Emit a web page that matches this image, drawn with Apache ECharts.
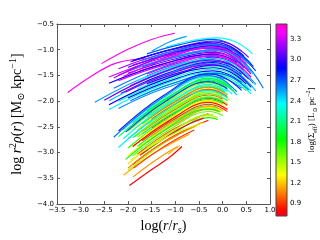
<!DOCTYPE html>
<html><head><meta charset="utf-8">
<script src="https://cdn.jsdelivr.net/npm/echarts@6/dist/echarts.min.js"></script>
<style>html,body{margin:0;padding:0;background:#fff}#c{width:320px;height:240px}</style>
</head><body><div id="c"></div>
<script>
// ---- data ----
const cbarTicks = [0.9,1.2,1.5,1.8,2.1,2.4,2.7,3.0,3.3];
const cbarRange = [0.72, 3.52];

// log(Sigma_eff) of each profile
const sigmaEff = [
  3.45,3.4,2.55,2.35,2.65,
  2.7,3.1,2.5,2.9,3.2,2.8,3.0,2.45,3.3,2.75,3.4,2.6,3.1,3.45,2.9,3.35,2.65,3.0,3.25,2.55,
  2.4,3.05,2.95,2.5,3.15,2.3,2.9,2.2,2.85,2.4,2.15,2.6,3.2,2.55,3.35,2.35,3.0,2.65,
  3.2,3.35,2.95,3.1,2.6,
  2.25,2.45,2.0,2.65,2.35,1.95,2.8,
  2.0,1.7,2.2,1.5,1.9,1.3,1.8,1.6,2.1,1.0,1.55,0.85,1.75,1.2,1.45,0.9,1.95,1.35,1.1,1.65,0.95,1.25,1.85,0.85,
  1.4,0.95,2.05,1.15,1.55,0.8,
  1.6,1.3,1.05,1.85,1.5,0.75,1.45,
  2.75,2.4,2.3,
  0.8,1.15,0.9,1.2,1.1,1.05,1.4
];

// each profile: [log(r/rs), log r^2 rho] points
const profiles = [
  [[-2.56,-1.27],[-2.0,-0.99],[-1.5,-0.8],[-1.01,-0.68]],
  [[-3.27,-1.83],[-2.75,-1.5],[-2.25,-1.26],[-1.65,-1.17]],
  [[-1.5,-1.03],[-1.1,-0.84],[-0.76,-0.74]],
  [[-1.2,-0.95],[-0.6,-0.81],[-0.1,-0.77],[0.3,-0.86],[0.63,-1.08]],
  [[-1.5,-1.3],[-0.9,-1.03],[-0.2,-0.93],[0.4,-1.2],[0.86,-1.75]],
  [[-1.6,-1.08],[-0.9,-0.9],[-0.2,-0.8],[0.1,-0.86],[0.4,-1.03]],
  [[-1.95,-1.24],[-1.05,-0.98],[-0.15,-0.83],[0.2,-0.91],[0.55,-1.15]],
  [[-1.4,-1.07],[-0.8,-0.94],[-0.2,-0.85],[0.2,-0.95],[0.6,-1.27]],
  [[-1.9,-1.21],[-1.1,-1.0],[-0.3,-0.87],[-0.05,-0.91],[0.2,-1.03]],
  [[-2.2,-1.37],[-1.2,-1.06],[-0.2,-0.89],[0.15,-0.97],[0.5,-1.21]],
  [[-1.55,-1.19],[-0.85,-1.01],[-0.15,-0.91],[0.25,-1.01],[0.65,-1.33]],
  [[-2.0,-1.34],[-1.1,-1.08],[-0.2,-0.93],[0.1,-0.99],[0.4,-1.16]],
  [[-1.45,-1.17],[-0.85,-1.04],[-0.25,-0.95],[0.2,-1.08],[0.65,-1.48]],
  [[-2.4,-1.53],[-1.3,-1.17],[-0.2,-0.97],[0.15,-1.05],[0.5,-1.29]],
  [[-1.7,-1.33],[-0.9,-1.12],[-0.1,-0.99],[0.3,-1.09],[0.7,-1.41]],
  [[-2.2,-1.49],[-1.2,-1.18],[-0.2,-1.01],[0.1,-1.07],[0.4,-1.24]],
  [[-1.65,-1.31],[-0.95,-1.13],[-0.25,-1.03],[0.1,-1.11],[0.45,-1.35]],
  [[-2.0,-1.46],[-1.1,-1.2],[-0.2,-1.05],[0.2,-1.15],[0.6,-1.47]],
  [[-1.75,-1.41],[-0.95,-1.2],[-0.15,-1.07],[0.2,-1.15],[0.55,-1.39]],
  [[-2.4,-1.65],[-1.3,-1.29],[-0.2,-1.09],[0.05,-1.13],[0.3,-1.25]],
  [[-1.6,-1.47],[-0.9,-1.25],[-0.2,-1.11],[0.2,-1.21],[0.6,-1.53]],
  [[-2.3,-1.75],[-1.3,-1.35],[-0.3,-1.13],[0.05,-1.21],[0.4,-1.45]],
  [[-1.6,-1.51],[-0.9,-1.29],[-0.2,-1.15],[0.25,-1.28],[0.7,-1.68]],
  [[-1.95,-1.7],[-1.05,-1.36],[-0.15,-1.17],[0.15,-1.23],[0.45,-1.4]],
  [[-2.7,-2.02],[-1.5,-1.48],[-0.3,-1.19],[0.1,-1.29],[0.5,-1.61]],
  [[-1.8,-1.65],[-1.0,-1.37],[-0.2,-1.21],[0.15,-1.29],[0.5,-1.53]],
  [[-2.15,-1.85],[-1.15,-1.45],[-0.15,-1.23],[0.25,-1.33],[0.65,-1.65]],
  [[-1.6,-1.61],[-0.9,-1.39],[-0.2,-1.25],[0.1,-1.31],[0.4,-1.48]],
  [[-2.4,-1.99],[-1.3,-1.52],[-0.2,-1.27],[0.25,-1.4],[0.7,-1.8]],
  [[-2.05,-1.82],[-1.15,-1.48],[-0.25,-1.29],[0.1,-1.37],[0.45,-1.61]],
  [[-1.8,-1.76],[-1.0,-1.48],[-0.2,-1.32],[0.2,-1.42],[0.6,-1.74]],
  [[-2.4,-2.07],[-1.3,-1.6],[-0.2,-1.35],[0.15,-1.43],[0.5,-1.67]],
  [[-2.2,-2.0],[-1.2,-1.6],[-0.2,-1.38],[0.2,-1.48],[0.6,-1.8]],
  [[-2.0,-1.94],[-1.1,-1.6],[-0.2,-1.41],[0.1,-1.47],[0.4,-1.64]],
  [[-2.4,-2.16],[-1.3,-1.69],[-0.2,-1.44],[0.2,-1.54],[0.6,-1.86]],
  [[-1.8,-1.92],[-1.0,-1.64],[-0.2,-1.48],[0.15,-1.56],[0.5,-1.8]],
  [[-2.2,-2.14],[-1.2,-1.74],[-0.2,-1.52],[0.1,-1.58],[0.4,-1.75]],
  [[-1.9,-1.3],[-1.1,-1.09],[-0.3,-0.96],[0.05,-1.04],[0.4,-1.28]],
  [[-2.0,-1.41],[-1.1,-1.15],[-0.2,-1.0],[0.2,-1.1],[0.6,-1.42]],
  [[-2.2,-1.6],[-1.2,-1.29],[-0.2,-1.12],[0.1,-1.18],[0.4,-1.35]],
  [[-1.8,-1.6],[-1.0,-1.32],[-0.2,-1.16],[0.25,-1.29],[0.7,-1.69]],
  [[-1.6,-1.66],[-0.9,-1.44],[-0.2,-1.3],[0.2,-1.4],[0.6,-1.72]],
  [[-1.95,-1.99],[-1.05,-1.65],[-0.15,-1.46],[0.2,-1.54],[0.55,-1.78]],
  [[-2.3,-1.55],[-1.25,-1.12],[-0.2,-0.88],[0.05,-0.92],[0.3,-1.04]],
  [[-2.1,-1.52],[-1.15,-1.16],[-0.2,-0.95],[0.15,-1.03],[0.5,-1.27]],
  [[-1.9,-1.22],[-1.05,-0.99],[-0.2,-0.85],[0.12,-0.92],[0.45,-1.12]],
  [[-2.5,-1.98],[-1.35,-1.47],[-0.2,-1.2],[0.18,-1.29],[0.55,-1.57]],
  [[-1.7,-1.21],[-0.95,-1.01],[-0.2,-0.9],[0.18,-0.99],[0.55,-1.27]],
  [[-2.1,-2.55],[-1.2,-1.91],[-0.3,-1.52],[-0.05,-1.58],[0.2,-1.75]],
  [[-1.9,-2.42],[-1.1,-1.9],[-0.3,-1.56],[0.0,-1.64],[0.3,-1.88]],
  [[-2.2,-2.69],[-1.25,-2.0],[-0.3,-1.58],[-0.1,-1.62],[0.1,-1.72]],
  [[-2.3,-2.7],[-1.3,-1.95],[-0.3,-1.5],[0.0,-1.58],[0.3,-1.82]],
  [[-1.7,-2.34],[-1.0,-1.91],[-0.3,-1.63],[-0.05,-1.69],[0.2,-1.86]],
  [[-1.6,-2.19],[-0.95,-1.81],[-0.3,-1.55],[-0.02,-1.62],[0.25,-1.82]],
  [[-2.2,-2.58],[-1.25,-1.89],[-0.3,-1.47],[0.05,-1.55],[0.4,-1.79]],
  [[-1.8,-2.39],[-1.05,-1.91],[-0.3,-1.6],[-0.1,-1.64],[0.1,-1.74]],
  [[-2.0,-2.58],[-1.15,-2.0],[-0.3,-1.64],[-0.15,-1.66],[0.0,-1.72]],
  [[-1.6,-2.31],[-0.95,-1.93],[-0.3,-1.67],[-0.1,-1.71],[0.1,-1.81]],
  [[-1.9,-2.56],[-1.1,-2.04],[-0.3,-1.7],[-0.15,-1.72],[0.0,-1.78]],
  [[-1.7,-2.44],[-1.0,-2.01],[-0.3,-1.73],[-0.1,-1.77],[0.1,-1.87]],
  [[-1.8,-2.55],[-1.05,-2.07],[-0.3,-1.76],[-0.2,-1.77],[-0.1,-1.8]],
  [[-2.0,-2.73],[-1.15,-2.15],[-0.3,-1.79],[-0.1,-1.83],[0.1,-1.93]],
  [[-1.6,-2.46],[-0.95,-2.08],[-0.3,-1.82],[-0.15,-1.84],[0.0,-1.9]],
  [[-1.9,-2.71],[-1.1,-2.19],[-0.3,-1.85],[-0.1,-1.89],[0.1,-1.99]],
  [[-1.7,-2.59],[-1.0,-2.16],[-0.3,-1.88],[-0.15,-1.9],[0.0,-1.96]],
  [[-1.8,-2.7],[-1.05,-2.22],[-0.3,-1.91],[-0.1,-1.95],[0.1,-2.05]],
  [[-1.5,-2.52],[-0.9,-2.17],[-0.3,-1.94],[-0.1,-1.98],[0.1,-2.08]],
  [[-2.0,-2.91],[-1.15,-2.33],[-0.3,-1.97],[-0.15,-1.99],[0.0,-2.05]],
  [[-1.6,-2.64],[-0.95,-2.26],[-0.3,-2.0],[-0.2,-2.01],[-0.1,-2.04]],
  [[-1.9,-2.89],[-1.1,-2.37],[-0.3,-2.03],[-0.15,-2.05],[0.0,-2.11]],
  [[-1.7,-2.77],[-1.0,-2.34],[-0.3,-2.06],[-0.1,-2.1],[0.1,-2.2]],
  [[-1.8,-2.88],[-1.05,-2.4],[-0.3,-2.09],[-0.2,-2.1],[-0.1,-2.13]],
  [[-2.0,-3.06],[-1.15,-2.48],[-0.3,-2.12],[-0.15,-2.14],[0.0,-2.2]],
  [[-1.6,-2.8],[-0.95,-2.42],[-0.3,-2.16],[-0.2,-2.17],[-0.1,-2.2]],
  [[-1.9,-3.06],[-1.1,-2.54],[-0.3,-2.2],[-0.15,-2.22],[0.0,-2.28]],
  [[-1.8,-3.03],[-1.05,-2.55],[-0.3,-2.24]],
  [[-2.0,-3.22],[-1.15,-2.64],[-0.3,-2.28],[-0.2,-2.29],[-0.1,-2.32]],
  [[-1.7,-3.03],[-1.0,-2.6],[-0.3,-2.32],[-0.2,-2.33],[-0.1,-2.36]],
  [[-1.9,-3.23],[-1.1,-2.71],[-0.3,-2.37]],
  [[-1.5,-2.2],[-0.9,-1.85],[-0.3,-1.62],[-0.12,-1.65],[0.05,-1.73]],
  [[-1.5,-2.35],[-0.9,-2.0],[-0.3,-1.77],[-0.1,-1.81],[0.1,-1.91]],
  [[-1.7,-2.64],[-1.0,-2.21],[-0.3,-1.93],[-0.15,-1.95],[0.0,-2.01]],
  [[-1.5,-2.68],[-0.9,-2.33],[-0.3,-2.1],[-0.15,-2.12],[0.0,-2.18]],
  [[-1.6,-2.9],[-0.95,-2.52],[-0.3,-2.26],[-0.2,-2.27]],
  [[-1.9,-2.88],[-1.1,-2.36],[-0.3,-2.02],[-0.1,-2.06],[0.1,-2.16]],
  [[-1.85,-2.69],[-1.08,-2.18],[-0.3,-1.86],[-0.18,-1.87],[-0.05,-1.92]],
  [[-1.75,-2.74],[-1.03,-2.29],[-0.3,-1.99],[-0.12,-2.02],[0.05,-2.1]],
  [[-1.6,-2.36],[-0.95,-1.98],[-0.3,-1.72],[-0.12,-1.75],[0.05,-1.83]],
  [[-2.05,-3.13],[-1.18,-2.53],[-0.3,-2.15],[-0.18,-2.16],[-0.05,-2.21]],
  [[-2.0,-3.34],[-1.3,-2.85],[-0.9,-2.63],[-0.55,-2.48]],
  [[-1.75,-3.05],[-1.1,-2.64],[-0.7,-2.44],[-0.4,-2.33]],
  [[-1.4,-2.31],[-0.85,-2.01],[-0.3,-1.8],[-0.08,-1.85],[0.15,-1.98]],
  [[-2.05,-2.6],[-1.2,-2.0],[-0.3,-1.62],[-0.1,-1.66],[0.1,-1.76]],
  [[-2.2,-2.9],[-1.25,-2.21],[-0.3,-1.79],[-0.1,-1.83],[0.1,-1.93]],
  [[-2.1,-2.73],[-1.2,-2.09],[-0.3,-1.7],[-0.1,-1.74],[0.05,-1.81]],
  [[-1.97,-3.64],[-1.55,-3.36],[-1.15,-3.11],[-0.86,-2.88]],
  [[-2.09,-3.44],[-1.6,-3.1],[-1.1,-2.83],[-0.7,-2.64]],
  [[-1.88,-3.3],[-1.4,-2.98],[-1.0,-2.75],[-0.6,-2.56]],
  [[-1.15,-3.03],[-1.0,-2.92],[-0.9,-2.86]],
  [[-1.89,-3.47],[-1.5,-3.2],[-1.1,-2.96],[-0.95,-2.88]],
  [[-2.0,-3.3],[-1.5,-2.95],[-1.0,-2.68],[-0.45,-2.42]],
  [[-1.95,-3.15],[-1.45,-2.84],[-0.95,-2.6],[-0.4,-2.42]]
];

// ---- colormap (gist_rainbow) ----
const cmStops = [[0,[1,0,0.16]],[0.03,[1,0,0]],[0.215,[1,1,0]],[0.4,[0,1,0]],[0.586,[0,1,1]],[0.77,[0,0,1]],[0.954,[1,0,1]],[1,[1,0,0.75]]];
function cmap(t){
  t = Math.max(0, Math.min(1, t));
  for (let i = 1; i < cmStops.length; i++) {
    if (t <= cmStops[i][0]) {
      const a = cmStops[i-1], b = cmStops[i];
      const f = (t - a[0]) / (b[0] - a[0]);
      const c = a[1].map((v,k) => Math.round(255*(v + (b[1][k]-v)*f)));
      return 'rgb(' + c.join(',') + ')';
    }
  }
  return 'rgb(255,0,191)';
}
const sigColor = v => cmap((v - cbarRange[0]) / (cbarRange[1] - cbarRange[0]));

const fmt = v => (v < 0 ? '\u2212' : '') + Math.abs(v).toFixed(1);
const serif = "'Liberation Serif','DejaVu Serif',serif";
const tickFont = {fontSize:7, color:'#000', fontFamily:'DejaVu Sans'};
const frame = {show:true, onZero:false, lineStyle:{color:'#555', width:1}};
const tickIn = {inside:true, length:3, lineStyle:{color:'#555'}};

function richSet(base){
  const s = Math.round(base*0.7);
  return {
    n:{fontSize:base, fontFamily:serif, color:'#000', lineHeight:base+4, verticalAlign:'middle'},
    i:{fontSize:base, fontFamily:serif, fontStyle:'italic', color:'#000', lineHeight:base+4, verticalAlign:'middle'},
    sup:{fontSize:s, fontFamily:serif, color:'#000', lineHeight:base+4, verticalAlign:'top'},
    sub:{fontSize:s, fontFamily:serif, color:'#000', lineHeight:base+4, verticalAlign:'bottom'},
    isub:{fontSize:s, fontFamily:serif, fontStyle:'italic', color:'#000', lineHeight:base+4, verticalAlign:'bottom'}
  };
}

const series = profiles.map((pts, k) => ({
  type:'line', xAxisIndex:0, yAxisIndex:0, data:pts, smooth:0.4,
  showSymbol:false, silent:true, clip:true,
  lineStyle:{width:1.15, color:sigColor(sigmaEff[k])}
}));

series.push({
  type:'custom', xAxisIndex:2, yAxisIndex:2, silent:true, data:[[0]],
  renderItem:(params, api) => {
    const p0 = api.coord([0, cbarRange[0]]);
    const p1 = api.coord([1, cbarRange[1]]);
    const stops = [];
    for (let i = 0; i <= 60; i++) { const t = i/60; stops.push({offset:t, color:cmap(1-t)}); }
    return {type:'rect', shape:{x:p0[0], y:p1[1], width:p1[0]-p0[0], height:p0[1]-p1[1]},
      style:{fill:new echarts.graphic.LinearGradient(0,0,0,1,stops), stroke:'#444', lineWidth:1}};
  }
});

const chart = echarts.init(document.getElementById('c'), null, {renderer:'canvas'});
chart.setOption({
  animation:false,
  backgroundColor:'#fff',
  grid:[{left:40, top:24, width:230, height:192}, {left:276, top:24, width:11, height:192}],
  xAxis:[
    {gridIndex:0, type:'value', min:-3.5, max:1.0, interval:0.5, position:'bottom',
     axisLine:frame, axisTick:tickIn,
     axisLabel:{...tickFont, margin:3, formatter:fmt}, splitLine:{show:false},
     name:'{n|log(}{i|r}{n|/}{i|r}{isub|s}{n|)}', nameLocation:'middle', nameGap:11,
     nameTextStyle:{rich:richSet(14)}},
    {gridIndex:0, type:'value', min:-3.5, max:1.0, interval:0.5, position:'top',
     axisLine:frame, axisTick:tickIn, axisLabel:{show:false}, splitLine:{show:false}},
    {gridIndex:1, type:'value', min:0, max:1, show:false}
  ],
  yAxis:[
    {gridIndex:0, type:'value', min:-4.0, max:-0.5, interval:0.5, position:'left',
     axisLine:frame, axisTick:tickIn,
     axisLabel:{...tickFont, margin:3, formatter:fmt}, splitLine:{show:false},
     name:'{n|log }{i|r}{sup|2}{i|\u03c1}{n|(}{i|r}{n|) [M}{sub|\u2299}{n| kpc}{sup|\u22121}{n|]}',
     nameLocation:'middle', nameGap:22, nameRotate:90, nameTextStyle:{rich:richSet(14)}},
    {gridIndex:0, type:'value', min:-4.0, max:-0.5, interval:0.5, position:'right',
     axisLine:frame, axisTick:tickIn, axisLabel:{show:false}, splitLine:{show:false}},
    {gridIndex:1, type:'value', min:cbarRange[0], max:cbarRange[1], position:'right',
     axisLine:{show:false, onZero:false},
     axisTick:{show:true, inside:true, length:2, customValues:cbarTicks, lineStyle:{color:'#444'}},
     axisLabel:{...tickFont, margin:3, customValues:cbarTicks, formatter:v => v.toFixed(1)},
     splitLine:{show:false},
     name:'{n|log(\u03a3}{sub|eff}{n|) [L}{sub|\u2299}{n| pc}{sup|\u22122}{n|]}',
     nameLocation:'middle', nameGap:16, nameRotate:90, nameTextStyle:{rich:richSet(9)}}
  ],
  series:series
});
</script></body></html>
